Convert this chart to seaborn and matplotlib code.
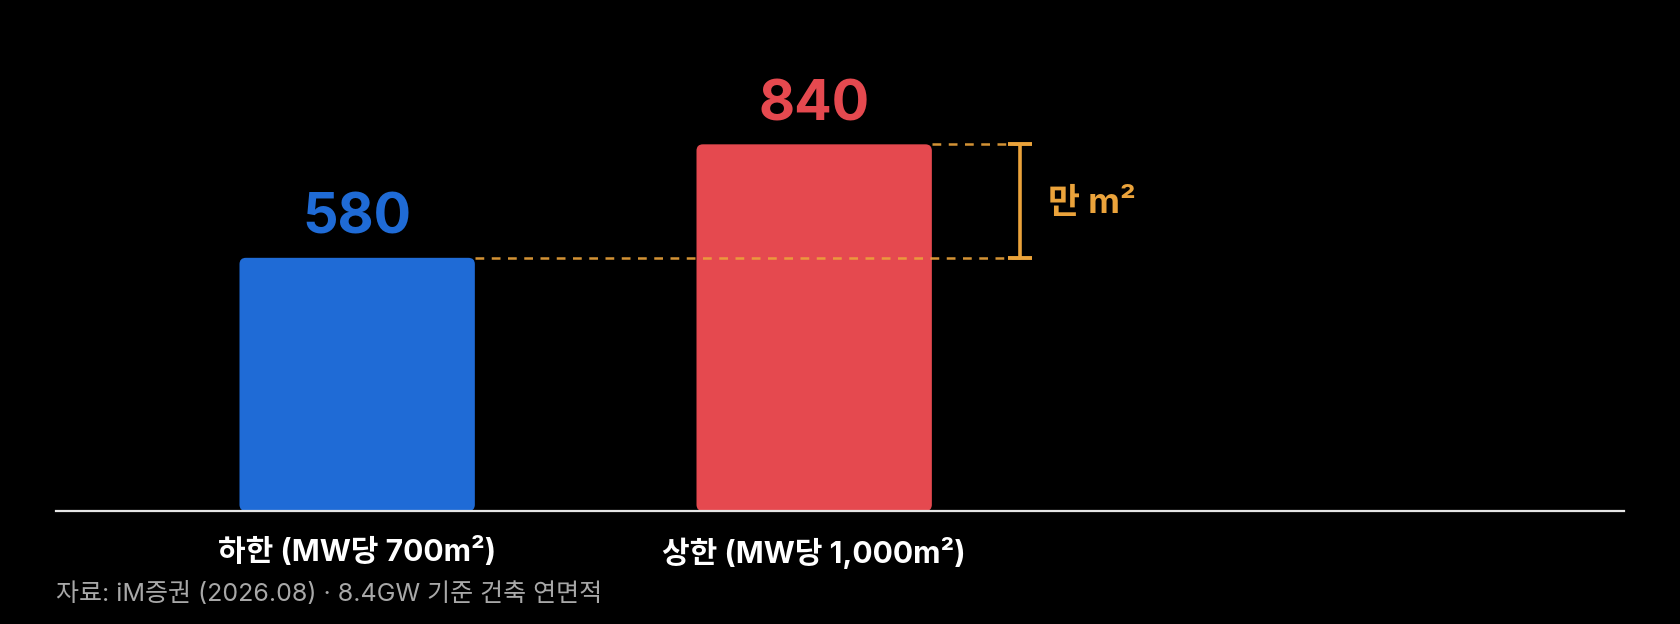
import matplotlib
matplotlib.use('Agg')
import matplotlib.pyplot as plt
import seaborn as sns
import pandas as pd
from matplotlib.patches import FancyBboxPatch

# Daten
categories = ['하한 (MW당 700m²)', '상한 (MW당 1,000m²)']
values = [580, 840]
bar_colors = ['#1F6BD6', '#E5494F']
unit_label = '만 m²'
source_text = '자료: iM증권 (2026.08) · 8.4GW 기준 건축 연면적'

sns.set_theme(style='white')
plt.rcParams['font.family'] = ['Inter', 'Noto Sans CJK KR', 'DejaVu Sans']

orange = '#EBA33B'

fig = plt.figure(figsize=(16.8, 6.24), dpi=100, facecolor='black')
ax = fig.add_axes([56 / 1680, 113 / 624, 1568 / 1680, 471 / 624])
ax.set_facecolor('black')

df = pd.DataFrame({'cat': categories, 'val': values})
bar_w = 0.515
sns.barplot(data=df, x='cat', y='val', hue='cat', palette=bar_colors,
            width=bar_w, legend=False, ax=ax, saturation=1)

xmin, xmax = -0.659, 2.772
ymax = 1079
ax.set_xlim(xmin, xmax)
ax.set_ylim(0, ymax)

# abgerundete Balken
aspect = (ymax / 471) / ((xmax - xmin) / 1568)
for p in list(ax.patches):
    x, w, h = p.get_x(), p.get_width(), p.get_height()
    fc = p.get_facecolor()
    p.remove()
    ax.add_patch(FancyBboxPatch((x, 0), w, h,
                                boxstyle='round,pad=0,rounding_size=0.014',
                                mutation_aspect=aspect, fc=fc, ec='none',
                                zorder=2))

# Wertbeschriftungen
for i, v in enumerate(values):
    ax.annotate(str(v), (i, v), xytext=(0, 28), textcoords='offset points',
                ha='center', va='center', fontsize=40, fontweight='bold',
                color=bar_colors[i])

# Differenz-Klammer
bx = xmin + 964 / 457
dash = (0, (3.5, 3))
ax.hlines(values[0], bar_w / 2, bx, colors=orange, linestyles=dash,
          linewidth=1.8, alpha=0.9, zorder=3)
ax.hlines(values[1], 1 + bar_w / 2, bx, colors=orange, linestyles=dash,
          linewidth=1.8, alpha=0.9, zorder=3)
ax.vlines(bx, values[0], values[1], colors=orange, linewidth=2.6, zorder=4)
cap = 12 / 457
ax.hlines([values[0], values[1]], bx - cap, bx + cap, colors=orange,
          linewidth=2.8, zorder=4)
ax.text(bx + 28 / 457, (values[0] + values[1]) / 2 - 6, unit_label,
        color=orange, fontsize=25, fontweight='bold', ha='left', va='center')

# Achsen
for s in ['top', 'left', 'right']:
    ax.spines[s].set_visible(False)
ax.spines['bottom'].set_color('#E6E6E6')
ax.spines['bottom'].set_linewidth(1.6)
ax.set_yticks([])
ax.set_xlabel('')
ax.set_ylabel('')
ax.tick_params(axis='x', length=0, pad=19, labelsize=21.6, labelcolor='white')
for t in ax.get_xticklabels():
    t.set_fontweight('bold')

fig.text(56 / 1680, 1 - 594 / 624, source_text, color='#A8A8A8',
         fontsize=18, ha='left', va='center')

fig.savefig('out.png', dpi=100, facecolor='black')
